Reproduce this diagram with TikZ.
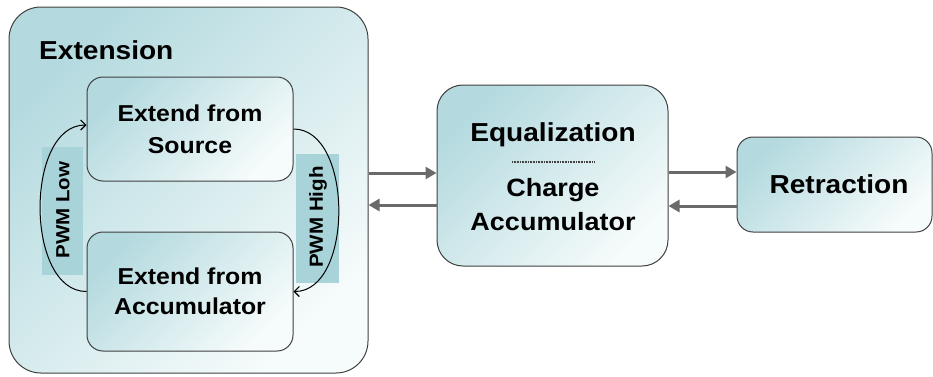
\documentclass[tikz,border=0pt]{standalone}
\usepackage{fontspec}
\setmainfont{Liberation Sans}[FakeStretch=1.08]
\usetikzlibrary{arrows.meta}

\definecolor{tealfill}{HTML}{B4DADF}
\definecolor{whitefill}{HTML}{F6FBFB}
\definecolor{bandfill}{HTML}{A8D3D8}
\definecolor{edgegray}{HTML}{404040}
\definecolor{flowgray}{HTML}{6A6A6A}

\tikzset{
  box/.style={draw=edgegray, line width=1pt, shading=axis, top color=tealfill,
    bottom color=whitefill, shading angle=45},
  label/.style={font=\bfseries\fontsize{23}{30}\selectfont, align=center, inner sep=0pt},
  flow/.style={draw=flowgray, line width=3pt, -{Triangle[length=11pt, width=12pt]}},
  loop/.style={draw=black, line width=1pt, -{Straight Barb[length=5pt, width=10pt, line width=1.2pt]}},
  band/.style={fill=bandfill, draw=none}
}

\begin{document}
\begin{tikzpicture}[x=1pt, y=-1pt]
    \useasboundingbox (0,0) rectangle (933,376);

    % Draw the boxes
    \node[box, rounded corners=32pt, minimum width=359pt, minimum height=366pt] (ext) at (188.5,190) {};
    \node[box, rounded corners=16pt, minimum width=206pt, minimum height=104pt] (src) at (190,129) {};
    \node[box, rounded corners=16pt, minimum width=206pt, minimum height=119pt] (acc) at (190,291.5) {};
    \node[box, rounded corners=26pt, minimum width=231pt, minimum height=181pt] (eq) at (552.5,175.5) {};
    \node[box, rounded corners=16pt, minimum width=195pt, minimum height=95pt] (ret) at (834.5,184.5) {};

    % Labels for the boxes
    \node[label, anchor=west, font=\bfseries\fontsize{26}{30}\selectfont] (extlbl) at (39,50) {Extension};
    \node[label, font=\bfseries\fontsize{23}{32}\selectfont] (srclbl) at (src.center) {Extend from\\Source};
    \node[label] (acclbl) at (acc.center) {Extend from\\Accumulator};
    \node[label, font=\bfseries\fontsize{26}{30}\selectfont] (eqlbl) at (553,135) {Equalization};
    \node[label, font=\bfseries\fontsize{25}{34}\selectfont] (chglbl) at (553,205) {Charge\\Accumulator};
    \node[label, font=\bfseries\fontsize{26}{30}\selectfont] (retlbl) at (839,184) {Retraction};
    \draw[edgegray, line width=1.2pt, dash pattern=on 0.8pt off 0.8pt] (512,162) -- (595,162);

    % PWM bands
    \fill[band] (42,147) rectangle (83,275);
    \fill[band] (296,154) rectangle (339,283);
    \node[label, rotate=90, font=\bfseries\fontsize{19}{22}\selectfont] (low) at (63,210) {PWM Low};
    \node[label, rotate=90, font=\bfseries\fontsize{19}{22}\selectfont] (high) at (318,217) {PWM High};

    % Switching between the extend modes
    \draw[loop] (acc.west) to[out=180, in=180, looseness=0.95] ([yshift=4pt]src.west);
    \draw[loop] (src.east) to[out=0, in=0, looseness=0.95] (acc.east);

    % Flow between the phases
    \draw[flow] ([yshift=2.5pt]eq.west -| ext.east) -- ([yshift=2.5pt]eq.west);
    \draw[flow] ([yshift=-29.5pt]eq.west) -- ([yshift=-29.5pt]eq.west -| ext.east);
    \draw[flow] ([yshift=3.5pt]eq.east) -- ([yshift=3.5pt]eq.east -| ret.west);
    \draw[flow] ([yshift=-30.5pt]eq.east -| ret.west) -- ([yshift=-30.5pt]eq.east);
\end{tikzpicture}
\end{document}
